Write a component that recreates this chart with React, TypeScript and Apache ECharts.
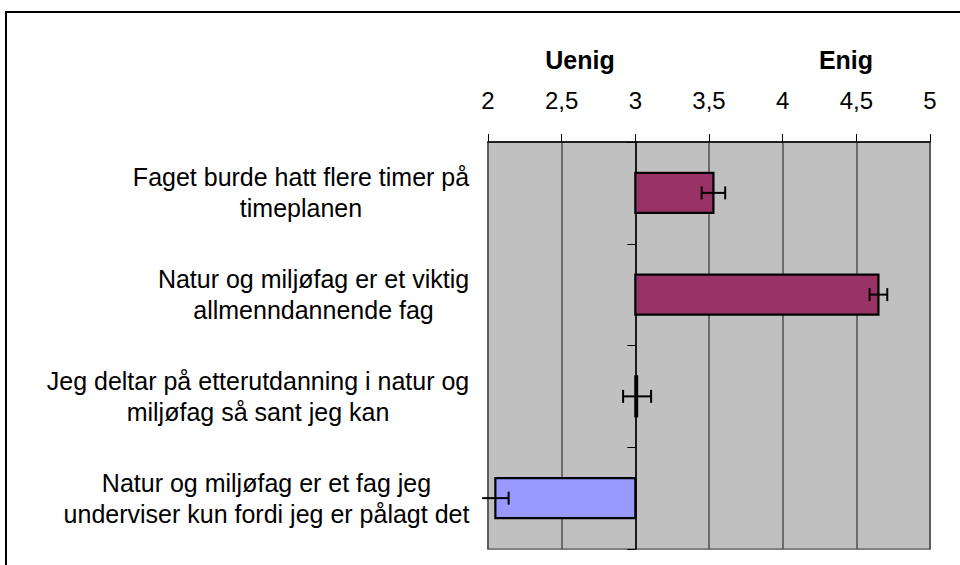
import React, { useEffect, useRef } from "react";
import * as echarts from "echarts";

const categories = [
  "Faget burde hatt flere timer på\ntimeplanen",
  "Natur og miljøfag er et viktig\nallmenndannende fag",
  "Jeg deltar på etterutdanning i natur og\nmiljøfag så sant jeg kan",
  "Natur og miljøfag er et fag jeg\nunderviser kun fordi jeg er pålagt det",
];
const means = [3.53, 4.65, 3.012, 2.05];
const errors = [0.08, 0.06, 0.095, 0.09];
const barColors = ["#993366", "#993366", "#993366", "#9999FF"];
const headerLabels = ["Uenig", "Enig"];
const X_MIN = 2;
const X_MAX = 5;
const X_STEP = 0.5;
const BASE = 3;

export default function App() {
  const ref = useRef<HTMLDivElement>(null);
  useEffect(() => {
    const chart = echarts.init(ref.current!, null, { renderer: "svg" });
    const FONT = "'Liberation Sans', Arial, sans-serif";
    const FS = 25;
    const canvas = document.createElement("canvas");
    const ctx = canvas.getContext("2d")!;
    ctx.font = `${FS}px "Liberation Sans"`;
    const rich: any = {};
    categories.forEach((c, i) => {
      const w = Math.max(...c.split("\n").map((l) => ctx.measureText(l).width));
      rich["r" + i] = {
        width: Math.ceil(w) + 1,
        align: "center",
        fontSize: FS,
        fontFamily: FONT,
        color: "#000",
        lineHeight: 31,
      };
    });
    const gridLeft = 488;
    const gridRight = 30;
    const gridWidth = 960 - gridLeft - gridRight;
    const baseOffset = ((BASE - X_MIN) / (X_MAX - X_MIN)) * gridWidth;

    const data = means.map((m, i) => [m, i, errors[i]]);

    const option: any = {
      animation: false,
      backgroundColor: "#fff",
      grid: {
        left: gridLeft,
        right: gridRight,
        top: 142,
        bottom: 16,
        show: true,
        backgroundColor: "#C0C0C0",
        borderColor: "#808080",
        borderWidth: 2,
      },
      graphic: [
        {
          type: "rect",
          shape: { x: 6, y: 12, width: 980, height: 600 },
          style: { fill: "none", stroke: "#000", lineWidth: 2 },
          silent: true,
        },
        {
          type: "text",
          x: 580,
          y: 60,
          style: {
            text: headerLabels[0],
            font: `bold 25px ${FONT}`,
            fill: "#000",
            textAlign: "center",
            textVerticalAlign: "middle",
          },
        },
        {
          type: "text",
          x: 846,
          y: 60,
          style: {
            text: headerLabels[1],
            font: `bold 25px ${FONT}`,
            fill: "#000",
            textAlign: "center",
            textVerticalAlign: "middle",
          },
        },
      ],
      xAxis: {
        type: "value",
        position: "top",
        min: X_MIN,
        max: X_MAX,
        interval: X_STEP,
        axisLine: { show: true, lineStyle: { color: "#000", width: 1.5 } },
        axisTick: { show: true, length: 8, lineStyle: { color: "#000", width: 1 } },
        axisLabel: {
          formatter: (v: number) => String(v).replace(".", ","),
          fontSize: 24,
          fontFamily: FONT,
          color: "#000",
          margin: 30,
        },
        splitLine: { show: true, lineStyle: { color: "#505050", width: 1.5 } },
      },
      yAxis: [
        {
          type: "category",
          data: categories,
          inverse: true,
          axisLine: { show: false },
          axisTick: { show: false },
          splitLine: { show: false },
          axisLabel: {
            align: "right",
            margin: 18,
            formatter: (v: string, i: number) =>
              v
                .split("\n")
                .map((l) => `{r${i}|${l}}`)
                .join("\n"),
            rich,
          },
        },
        {
          type: "category",
          data: categories,
          inverse: true,
          position: "left",
          offset: -baseOffset,
          axisLine: { show: true, lineStyle: { color: "#000", width: 1.5 } },
          axisTick: { show: true, length: 8, lineStyle: { color: "#000", width: 1 } },
          axisLabel: { show: false },
          splitLine: { show: false },
        },
      ],
      series: [
        {
          type: "custom",
          xAxisIndex: 0,
          yAxisIndex: 0,
          encode: { x: 0, y: 1 },
          data,
          renderItem: (params: any, api: any) => {
            const v = api.value(0);
            const cat = api.value(1);
            const e = api.value(2);
            const p0 = api.coord([BASE, cat]);
            const p1 = api.coord([v, cat]);
            const band = api.size([0, 1])[1];
            const h = band * 0.393;
            const cy = p1[1];
            const lo = api.coord([v - e, cat]);
            const hi = api.coord([v + e, cat]);
            const capH = 6.5;
            const children: any[] = [
              {
                type: "rect",
                shape: {
                  x: Math.min(p0[0], p1[0]),
                  y: cy - h / 2,
                  width: Math.abs(p1[0] - p0[0]),
                  height: h,
                },
                style: { fill: barColors[params.dataIndex], stroke: "#000", lineWidth: 2.2 },
              },
              {
                type: "line",
                shape: { x1: lo[0], y1: cy, x2: hi[0], y2: cy },
                style: { stroke: "#000", lineWidth: 2 },
              },
            ];
            if (v - e >= X_MIN) {
              children.push({
                type: "line",
                shape: { x1: lo[0], y1: cy - capH, x2: lo[0], y2: cy + capH },
                style: { stroke: "#000", lineWidth: 2 },
              });
            }
            if (v + e <= X_MAX) {
              children.push({
                type: "line",
                shape: { x1: hi[0], y1: cy - capH, x2: hi[0], y2: cy + capH },
                style: { stroke: "#000", lineWidth: 2 },
              });
            }
            return { type: "group", children };
          },
        },
      ],
    };
    chart.setOption(option);
    return () => chart.dispose();
  }, []);
  return (
    <div
      ref={ref}
      style={{ position: "fixed", left: 0, top: 0, width: 960, height: 565 }}
    />
  );
}
